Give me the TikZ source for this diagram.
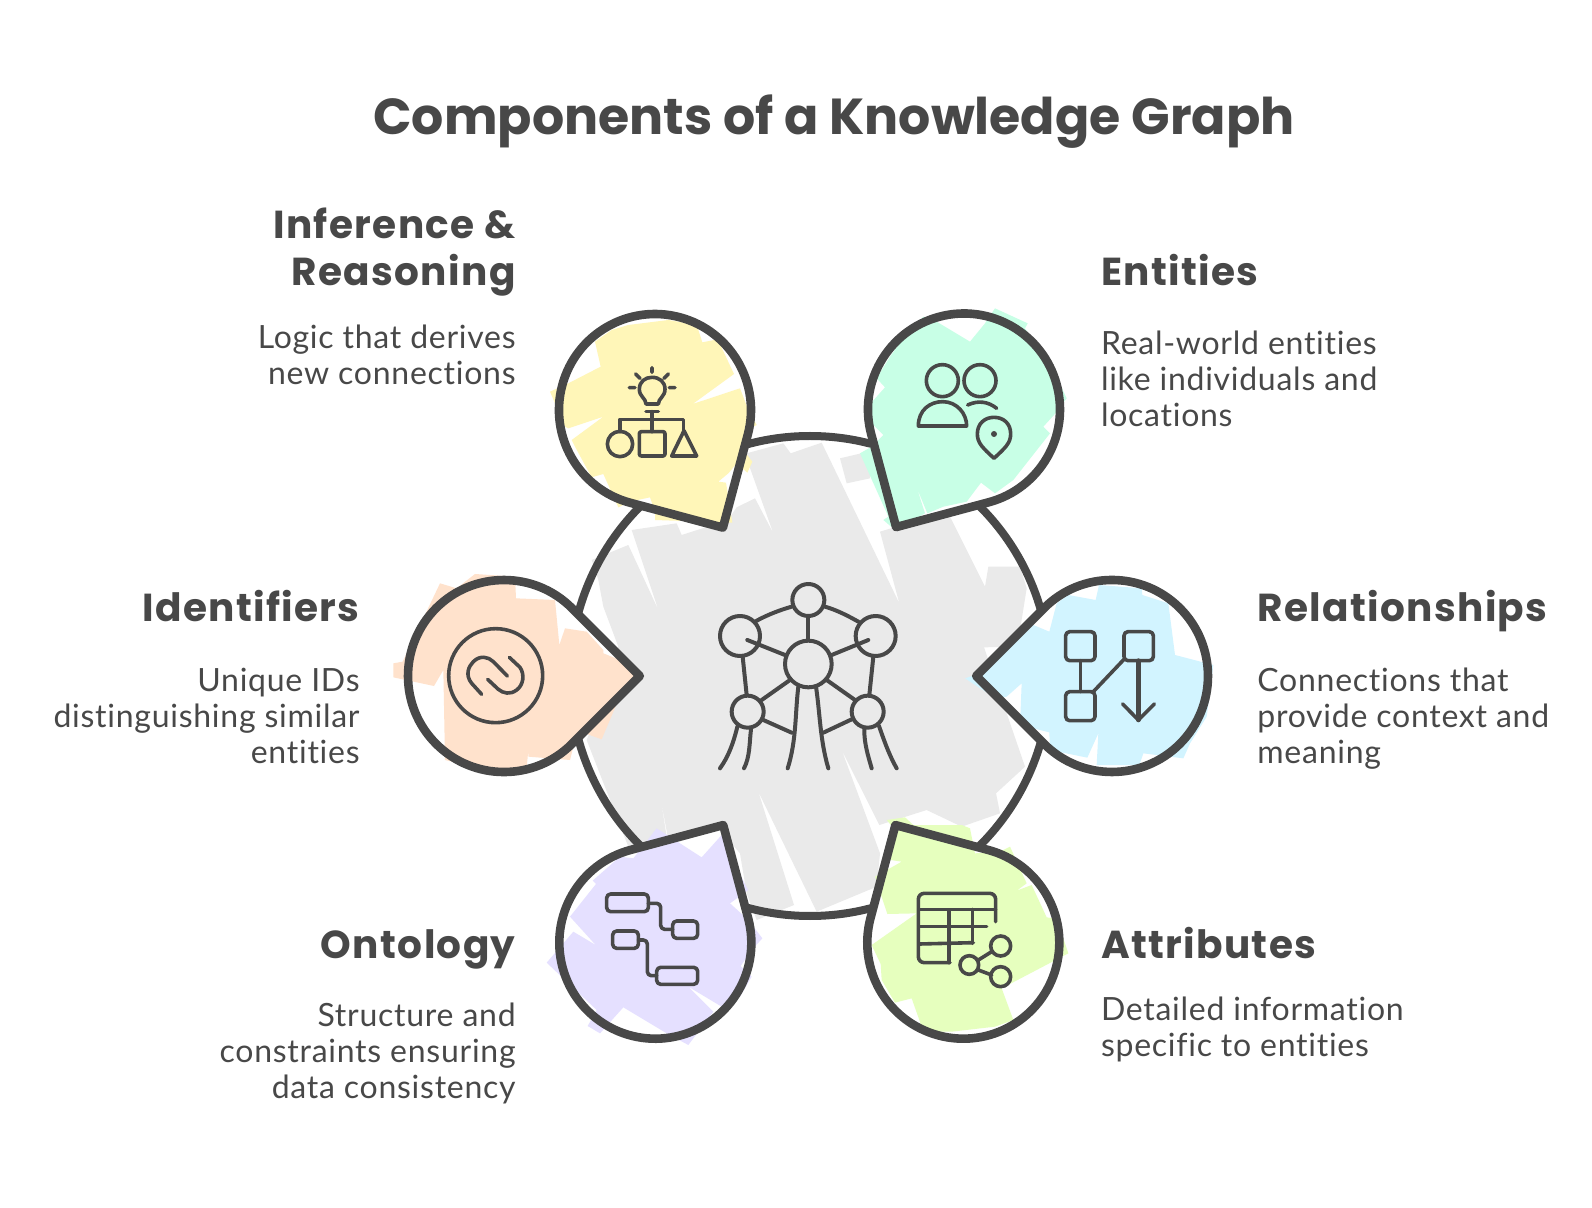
\documentclass[tikz,border=0pt]{standalone}
\usepackage{fontspec}
\newfontfamily\headfont[LetterSpace=3.5,Ligatures=NoCommon]{Poppins}
\newfontfamily\titlefont{Poppins}
\newfontfamily\bodyfont[LetterSpace=2.3,Ligatures=NoCommon]{Lato}
\definecolor{ink}{HTML}{484848}
\definecolor{cgray}{HTML}{EAEAEA}
\definecolor{cyellow}{HTML}{FFF6B8}
\definecolor{cteal}{HTML}{C8FFE6}
\definecolor{cblue}{HTML}{D2F4FF}
\definecolor{corange}{HTML}{FFE2CC}
\definecolor{cpurple}{HTML}{E5E0FF}
\definecolor{cgreen}{HTML}{E6FFBE}
\tikzset{
  ic/.style={draw=ink,line width=1.8pt,line cap=round,line join=round},
  icc/.style={draw=ink,line width=2pt,line cap=round,line join=round},
  rimline/.style={draw=ink,line width=4pt},
  titletext/.style={text=ink,font=\titlefont\bfseries\fontsize{25.3}{29}\selectfont,inner sep=0pt,yshift=-0.6pt},
  headtext/.style={text=ink,font=\headfont\bfseries\fontsize{19.5}{23}\selectfont,inner sep=0pt,yshift=-0.2pt},
  bodytext/.style={text=ink,font=\bodyfont\fontsize{16}{18}\selectfont,inner sep=0pt,yshift=-0.7pt},
  zoomed/.style={x=0.166667pt,y=-0.166667pt}
}
\newcommand{\pinfill}[3]{%
  \begin{scope}[shift={(#1,#2)},rotate=#3]
    \path[fill=white] (135.8,0) -- (67.9,67.9) arc (45:315:96) -- cycle;
  \end{scope}}
\newcommand{\pinrim}[3]{%
  \begin{scope}[shift={(#1,#2)},rotate=#3]
    \draw[draw=ink,line width=4.3pt,line join=round] (135.8,0) -- (67.9,67.9) arc (45:315:96) -- cycle;
  \end{scope}}
\begin{document}
\begin{tikzpicture}[x=0.5pt,y=-0.5pt]
\useasboundingbox (0,0) rectangle (1592,1208);
\fill[white] (0,0) rectangle (1592,1208);

% centre disc
\begin{scope}[shift={(560,420)},zoomed]
\fill[cgray] (560,100) -- (670,70) -- (692,100) -- (785,68) -- (1018,550) -- (960,335) -- (1010,320) -- (1170,290) -- (1275,500) -- (1285,440) -- (1380,440) -- (1400,505) -- (1372,680) -- (1272,682) -- (1395,1040) -- (1308,1120) -- (1320,1180) -- (1205,1220) -- (1100,1170) -- (958,1215) -- (845,990) -- (960,1300) -- (950,1400) -- (878,1430) -- (770,1475) -- (595,1115) -- (702,1455) -- (590,1500) -- (560,1420) -- (540,1300) -- (480,1230) -- (325,1260) -- (300,1125) -- (320,1250) -- (205,1280) -- (80,960) -- (130,840) -- (175,680) -- (130,560) -- (115,480) -- (95,420) -- (205,375) -- (295,570) -- (215,330) -- (350,310) -- (365,345) -- (490,305) -- (510,380) -- (490,320) -- (530,262) -- (585,235) -- (640,340) -- (565,130) -- cycle;
\fill[cgray] (840,115) -- (925,95) -- (930,175) -- (860,190) -- cycle;
\end{scope}
\draw[rimline] (810,676) circle (240);

% white pin bodies
\pinfill{655}{410}{-60}
\pinfill{964}{409.5}{-120}
\pinfill{1112}{676}{180}
\pinfill{504}{676}{0}
\pinfill{655.3}{942.7}{60}
\pinfill{963.3}{942.7}{120}

% coloured scribbles
\begin{scope}[shift={(540,290)},zoomed]
\fill[cyellow] (265,105) -- (385,90) -- (470,105) -- (487,157) -- (533,148) -- (582,252) -- (458,342) -- (600,295) -- (625,360) -- (650,405) -- (630,415) -- (610,480) -- (637,515) -- (622,548) -- (590,520) -- (565,550) -- (535,575) -- (558,578) -- (577,698) -- (345,690) -- (345,665) -- (330,622) -- (270,635) -- (235,652) -- (190,552) -- (155,562) -- (105,470) -- (95,450) -- (190,380) -- (85,415) -- (75,410) -- (30,305) -- (85,280) -- (182,230) -- (165,155) -- (215,120) -- cycle;
\end{scope}
\begin{scope}[shift={(850,290)},zoomed]
\fill[cteal] (220,80) -- (260,95) -- (360,155) -- (405,100) -- (435,55) -- (533,100) -- (525,115) -- (560,165) -- (610,240) -- (650,325) -- (612,375) -- (580,410) -- (600,430) -- (490,570) -- (435,610) -- (393,578) -- (350,635) -- (280,650) -- (232,670) -- (200,592) -- (225,670) -- (135,720) -- (100,690) -- (115,680) -- (30,490) -- (65,470) -- (100,435) -- (65,400) -- (62,340) -- (105,292) -- (80,265) -- (120,200) -- (170,130) -- cycle;
\end{scope}
\begin{scope}[shift={(950,570)},zoomed]
\fill[cblue] (45,325) -- (75,315) -- (100,300) -- (250,165) -- (298,185) -- (320,100) -- (355,75) -- (437,90) -- (447,45) -- (575,55) -- (577,75) -- (655,100) -- (675,255) -- (790,285) -- (770,440) -- (720,520) -- (700,565) -- (580,550) -- (568,585) -- (440,585) -- (445,490) -- (412,563) -- (300,540) -- (298,487) -- (210,465) -- (215,340) -- (170,380) -- (140,385) -- (90,355) -- cycle;
\end{scope}
\begin{scope}[shift={(390,560)},zoomed]
\fill[corange] (10,310) -- (38,305) -- (150,70) -- (200,85) -- (255,42) -- (375,50) -- (378,115) -- (495,120) -- (508,255) -- (525,205) -- (590,215) -- (640,270) -- (640,280) -- (690,300) -- (735,348) -- (685,420) -- (635,538) -- (585,520) -- (555,540) -- (540,600) -- (415,590) -- (415,570) -- (410,622) -- (300,632) -- (165,600) -- (160,330) -- (132,378) -- (10,352) -- cycle;
\end{scope}
\begin{scope}[shift={(540,810)},zoomed]
\fill[cpurple] (350,55) -- (485,142) -- (545,75) -- (590,175) -- (625,240) -- (570,280) -- (625,330) -- (667,385) -- (635,420) -- (602,468) -- (635,500) -- (600,560) -- (545,590) -- (445,530) -- (520,605) -- (445,705) -- (380,670) -- (250,592) -- (180,670) -- (143,648) -- (170,600) -- (20,458) -- (100,365) -- (167,405) -- (90,320) -- (168,222) -- (158,212) -- (240,140) -- (280,145) -- cycle;
\end{scope}
\begin{scope}[shift={(850,810)},zoomed]
\fill[cgreen] (110,30) -- (165,22) -- (190,45) -- (335,45) -- (360,55) -- (375,130) -- (450,125) -- (480,110) -- (530,220) -- (500,242) -- (545,225) -- (590,322) -- (610,325) -- (640,385) -- (655,430) -- (455,535) -- (490,630) -- (435,650) -- (305,665) -- (270,665) -- (215,650) -- (185,565) -- (135,578) -- (95,510) -- (92,462) -- (65,405) -- (200,310) -- (112,312) -- (75,200) -- (155,155) -- (122,150) -- (135,60) -- cycle;
\end{scope}

% pin outlines
\pinrim{655}{410}{-60}
\pinrim{964}{409.5}{-120}
\pinrim{1112}{676}{180}
\pinrim{504}{676}{0}
\pinrim{655.3}{942.7}{60}
\pinrim{963.3}{942.7}{120}

% centre icon
\begin{scope}[shift={(680,560)},zoomed]
\draw[icc] (385,120) circle (48) (180,228) circle (60) (587,228) circle (60) (385,312) circle (70) (203,455) circle (48) (563,455) circle (48);
\draw[icc] (225,185) .. controls (260,165) and (300,150) .. (335,140);
\draw[icc] (435,140) .. controls (470,150) and (505,168) .. (535,185);
\draw[icc] (385,170) -- (385,240);
\draw[icc] (202,240) -- (315,285);
\draw[icc] (565,240) -- (455,285);
\draw[icc] (188,290) -- (200,405);
\draw[icc] (580,290) -- (568,405);
\draw[icc] (245,420) -- (330,360);
\draw[icc] (440,360) -- (525,420);
\draw[icc] (250,480) -- (335,518);
\draw[icc] (430,518) -- (515,478);
\draw[icc] (355,380) .. controls (345,460) and (350,540) .. (323,625);
\draw[icc] (408,380) .. controls (420,460) and (420,540) .. (445,625);
\draw[icc] (172,500) .. controls (160,550) and (145,590) .. (120,625);
\draw[icc] (213,508) .. controls (208,550) and (210,590) .. (192,625);
\draw[icc] (553,508) .. controls (552,550) and (565,590) .. (575,625);
\draw[icc] (597,498) .. controls (615,550) and (630,590) .. (650,625);
\end{scope}

% yellow icon
\begin{scope}[shift={(540,290)},zoomed]
\draw[ic] (318,342) .. controls (318,325) and (298,320) .. (298,298) .. controls (298,275) and (315,262) .. (336,262) .. controls (358,262) and (375,275) .. (375,298) .. controls (375,320) and (355,325) .. (355,342) -- cycle;
\draw[ic] (318,365) -- (355,365) (336,365) -- (336,425);
\draw[ic] (240,425) -- (240,388) -- (430,388) -- (430,425);
\draw[ic] (240,462) circle (38);
\draw[ic,rounded corners=1pt] (298,425) rectangle (375,498);
\draw[ic] (432,422) -- (395,498) -- (470,498) -- cycle;
\draw[ic] (336,233) -- (336,247) (287,252) -- (300,265) (385,252) -- (372,265) (268,293) -- (285,293) (388,293) -- (405,293);
\end{scope}

% teal icon
\begin{scope}[shift={(850,290)},zoomed]
\draw[ic] (277,272) circle (48) (390,272) circle (48);
\draw[ic] (205,408) .. controls (205,360) and (240,335) .. (278,335) .. controls (320,335) and (350,370) .. (350,408) -- cycle;
\draw[ic] (353,345) .. controls (385,330) and (415,335) .. (440,355);
\draw[ic] (432,505) .. controls (400,475) and (382,460) .. (382,432) .. controls (382,400) and (405,382) .. (432,382) .. controls (460,382) and (482,400) .. (482,432) .. controls (482,460) and (464,475) .. (432,505) -- cycle;
\fill[ink] (432,432) circle (9);
\end{scope}

% blue icon
\begin{scope}[shift={(950,570)},zoomed]
\draw[ic,rounded corners=2pt] (347,185) rectangle (435,272);
\draw[ic,rounded corners=2pt] (522,185) rectangle (610,272);
\draw[ic,rounded corners=2pt] (347,365) rectangle (435,452);
\draw[ic] (392,272) -- (392,365);
\draw[ic] (522,268) -- (430,365);
\draw[ic,line width=2.3pt] (565,272) -- (565,450);
\draw[ic] (518,402) -- (565,450) -- (613,402);
\end{scope}

% orange icon
\begin{scope}[shift={(390,560)},zoomed]
\draw[ic] (317,347) circle (141);
\draw[ic] (275,403) -- (245,370) .. controls (225,345) and (235,320) .. (250,305) .. controls (270,285) and (295,290) .. (310,305) -- (352,348);
\draw[ic] (358,292) -- (390,322) .. controls (405,345) and (400,375) .. (380,390) .. controls (360,405) and (340,400) .. (325,388) -- (293,358);
\end{scope}

% purple icon
\begin{scope}[shift={(540,810)},zoomed]
\draw[ic,rounded corners=2pt] (200,252) rectangle (325,305);
\draw[ic,rounded corners=2pt] (398,333) rectangle (473,385);
\draw[ic,rounded corners=2pt] (218,363) rectangle (295,415);
\draw[ic,rounded corners=2pt] (350,472) rectangle (473,523);
\draw[ic,rounded corners=2pt] (325,280) -- (362,280) -- (362,358) -- (398,358);
\draw[ic,rounded corners=2pt] (295,390) -- (322,390) -- (322,497) -- (350,497);
\end{scope}

% green icon
\begin{scope}[shift={(850,810)},zoomed]
\draw[ic,rounded corners=3pt] (437,335) -- (437,250) -- (205,250) -- (205,458) -- (300,458);
\draw[ic] (208,298) -- (437,298);
\draw[ic] (208,350) -- (410,350);
\draw[ic] (208,402) -- (370,398);
\draw[ic] (297,300) -- (297,458);
\draw[ic] (368,298) -- (368,400);
\draw[ic] (358,465) circle (28) (452,408) circle (30) (452,500) circle (30);
\draw[ic] (385,450) -- (425,425);
\draw[ic] (385,480) -- (425,495);
\end{scope}

% texts
\node[titletext,anchor=base] (title) at (834,133) {Components of a Knowledge Graph};

\node[headtext,anchor=base east] (infH1) at (516,238) {Inference \&};
\node[headtext,anchor=base east] (infH2) at (516,285) {Reasoning};
\node[bodytext,anchor=base east] (infB1) at (516,347) {Logic that derives};
\node[bodytext,anchor=base east] (infB2) at (516,383) {new connections};

\node[headtext,anchor=base west] (entH) at (1100.6,285) {Entities};
\node[bodytext,anchor=base west] (entB1) at (1100.6,353) {Real-world entities};
\node[bodytext,anchor=base west] (entB2) at (1100.6,389) {like individuals and};
\node[bodytext,anchor=base west] (entB3) at (1100.6,425) {locations};

\node[headtext,anchor=base east] (idH) at (360,621.5) {Identifiers};
\node[bodytext,anchor=base east] (idB1) at (360,690) {Unique IDs};
\node[bodytext,anchor=base east] (idB2) at (360,726) {distinguishing similar};
\node[bodytext,anchor=base east] (idB3) at (360,762) {entities};

\node[headtext,anchor=base west] (relH) at (1257,621.5) {Relationships};
\node[bodytext,anchor=base west] (relB1) at (1257,690) {Connections that};
\node[bodytext,anchor=base west] (relB2) at (1257,726) {provide context and};
\node[bodytext,anchor=base west] (relB3) at (1257,762) {meaning};

\node[headtext,anchor=base east] (ontH) at (516,958) {Ontology};
\node[bodytext,anchor=base east] (ontB1) at (516,1025.5) {Structure and};
\node[bodytext,anchor=base east] (ontB2) at (516,1061.5) {constraints ensuring};
\node[bodytext,anchor=base east] (ontB3) at (516,1097.5) {data consistency};

\node[headtext,anchor=base west] (attH) at (1100.6,958) {Attributes};
\node[bodytext,anchor=base west] (attB1) at (1100.6,1019.5) {Detailed information};
\node[bodytext,anchor=base west] (attB2) at (1100.6,1055.5) {specific to entities};
\end{tikzpicture}
\end{document}
